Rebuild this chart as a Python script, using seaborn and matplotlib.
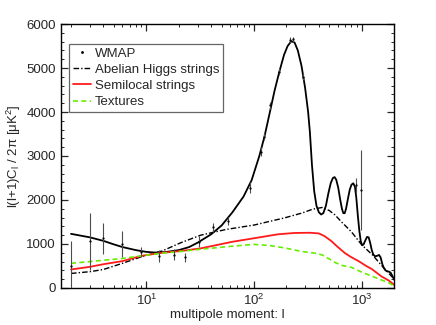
import numpy as np
import pandas as pd
import matplotlib
matplotlib.use("Agg")
import matplotlib.pyplot as plt
from matplotlib.lines import Line2D
from matplotlib.ticker import MultipleLocator, LogLocator, NullFormatter
import seaborn as sns

# Best-fit theoretical curve (black solid)
lcdm_l = [2, 3, 4, 5, 6, 8, 10, 12, 15, 20, 25, 30, 40, 50, 63, 80, 95, 112, 125, 139,
          155, 172, 190, 205, 222, 238, 255, 276, 298, 318, 330, 345, 362, 380, 400, 420,
          440, 465, 490, 515, 540, 560, 580, 605, 630, 655, 675, 695, 715, 745, 775, 805,
          835, 865, 890, 920, 950, 980, 1010, 1040, 1080, 1120, 1160, 1200, 1240, 1280,
          1330, 1390, 1450, 1500, 1550, 1600, 1660, 1720, 1790, 1850, 1920, 2000]
lcdm_cl = [1230, 1150, 1070, 990, 930, 860, 820, 805, 815, 860, 930, 1030, 1220, 1420,
           1720, 2080, 2450, 3000, 3440, 3950, 4480, 4920, 5300, 5500, 5610, 5580, 5400,
           5050, 4550, 4000, 3550, 2800, 2200, 1870, 1720, 1670, 1700, 1870, 2150, 2380,
           2500, 2520, 2460, 2280, 2020, 1800, 1700, 1700, 1800, 2030, 2240, 2350, 2380,
           2300, 2060, 1650, 1300, 1060, 970, 990, 1080, 1160, 1150, 1020, 860, 760, 720,
           730, 750, 690, 550, 460, 400, 380, 370, 350, 280, 190]

# Abelian Higgs strings (dash-dot)
ah_l = [2, 3, 4, 6, 9, 14, 21, 32, 55, 100, 190, 276, 350, 430, 500, 565, 650, 800,
        1000, 1260, 1570, 2000]
ah_cl = [330, 370, 420, 560, 710, 840, 1030, 1200, 1330, 1430, 1590, 1700, 1790, 1830,
         1760, 1660, 1500, 1280, 980, 750, 480, 200]

# Semilocal strings (red)
sl_l = [2, 3, 4, 6, 9, 14, 21, 32, 63, 100, 167, 237, 330, 400, 450, 520, 600, 700,
        800, 935, 1100, 1240, 1530, 1780, 2000]
sl_cl = [420, 480, 540, 610, 730, 800, 840, 900, 1050, 1130, 1220, 1250, 1255, 1240,
         1180, 1070, 930, 790, 700, 610, 500, 430, 260, 170, 70]

# Textures (green dashed)
tx_l = [2, 3, 4, 6, 9, 14, 21, 32, 63, 100, 139, 193, 276, 370, 430, 490, 565, 660,
        800, 1000, 1240, 1530, 1780, 2000]
tx_cl = [560, 600, 630, 670, 730, 790, 830, 880, 950, 990, 965, 910, 830, 790, 750,
         670, 580, 510, 470, 360, 270, 180, 120, 40]

# WMAP band powers with errors
wmap_l = [2, 3, 4, 6, 9, 13, 18, 23, 31, 42, 57, 91, 115, 125, 141, 172, 217, 229,
          284, 893, 993]
wmap_cl = [500, 1060, 1130, 1000, 820, 730, 760, 700, 1050, 1380, 1520, 2280, 3100,
           3440, 4150, 4920, 5640, 5650, 4800, 2330, 2230]
wmap_err = [570, 650, 350, 290, 120, 130, 120, 100, 120, 100, 90, 120, 100, 80, 80,
            80, 60, 60, 80, 170, 910]

curves = pd.concat([
    pd.DataFrame({"l": lcdm_l, "cl": lcdm_cl, "model": "LCDM"}),
    pd.DataFrame({"l": ah_l, "cl": ah_cl, "model": "Abelian Higgs strings"}),
    pd.DataFrame({"l": sl_l, "cl": sl_cl, "model": "Semilocal strings"}),
    pd.DataFrame({"l": tx_l, "cl": tx_cl, "model": "Textures"}),
])

sns.set_style("ticks")
plt.rcParams["font.family"] = ["Liberation Sans", "DejaVu Sans"]
plt.rcParams["mathtext.fontset"] = "custom"
plt.rcParams["mathtext.rm"] = "Liberation Sans"
plt.rcParams["mathtext.it"] = "Liberation Sans"

fig = plt.figure(figsize=(4.36, 3.25), dpi=100)
ax = fig.add_axes([0.139, 0.114, 0.765, 0.812])

# WMAP points
ax.errorbar(wmap_l, wmap_cl, yerr=wmap_err, fmt=".", color="black", ms=1.2,
            ecolor="0.3", elinewidth=0.8, capsize=0, zorder=3)

styles = {
    "LCDM": dict(color="black", ls="-", lw=1.3),
    "Abelian Higgs strings": dict(color="black", ls=(0, (4, 1.5, 1, 1.5)), lw=1.0),
    "Semilocal strings": dict(color="#ff1a1a", ls="-", lw=1.3),
    "Textures": dict(color="#66ee00", ls=(0, (3, 2)), lw=1.2),
}
for name, st in styles.items():
    sub = curves[curves["model"] == name]
    sns.lineplot(data=sub, x="l", y="cl", ax=ax, sort=False, estimator=None,
                 legend=False, **st)

ax.set_xscale("log")
ax.set_xlim(1.6, 2000)
ax.set_ylim(0, 6000)
ax.yaxis.set_major_locator(MultipleLocator(1000))
ax.yaxis.set_minor_locator(MultipleLocator(200))
ax.xaxis.set_minor_locator(LogLocator(base=10, subs=np.arange(2, 10)))
ax.xaxis.set_minor_formatter(NullFormatter())
ax.tick_params(which="both", direction="in", top=True, right=True, labelsize=9.5)
ax.tick_params(which="major", length=5, width=0.9)
ax.tick_params(which="minor", length=2.5, width=0.7)
for sp in ax.spines.values():
    sp.set_linewidth(1.0)
    sp.set_color("black")

ax.set_xlabel("multipole moment: l", fontsize=9.5, labelpad=1)
ax.set_ylabel(r"l(l+1)C$_\mathregular{l}$ / 2π [μK$^\mathregular{2}$]", fontsize=9.5, labelpad=2)

handles = [Line2D([], [], ls="none", marker=".", ms=2, color="black")]
labels = ["WMAP"]
for name in ["Abelian Higgs strings", "Semilocal strings", "Textures"]:
    handles.append(Line2D([], [], **styles[name]))
    labels.append(name)
leg = ax.legend(handles, labels, loc="upper left", bbox_to_anchor=(0.026, 0.924),
                borderaxespad=0, fontsize=9.5, frameon=True, fancybox=False,
                handlelength=1.4, handletextpad=0.3, labelspacing=0.3,
                borderpad=0.25, framealpha=1)
leg.get_frame().set_edgecolor("0.4")
leg.get_frame().set_linewidth(0.9)

fig.savefig("out.png", dpi=100)
